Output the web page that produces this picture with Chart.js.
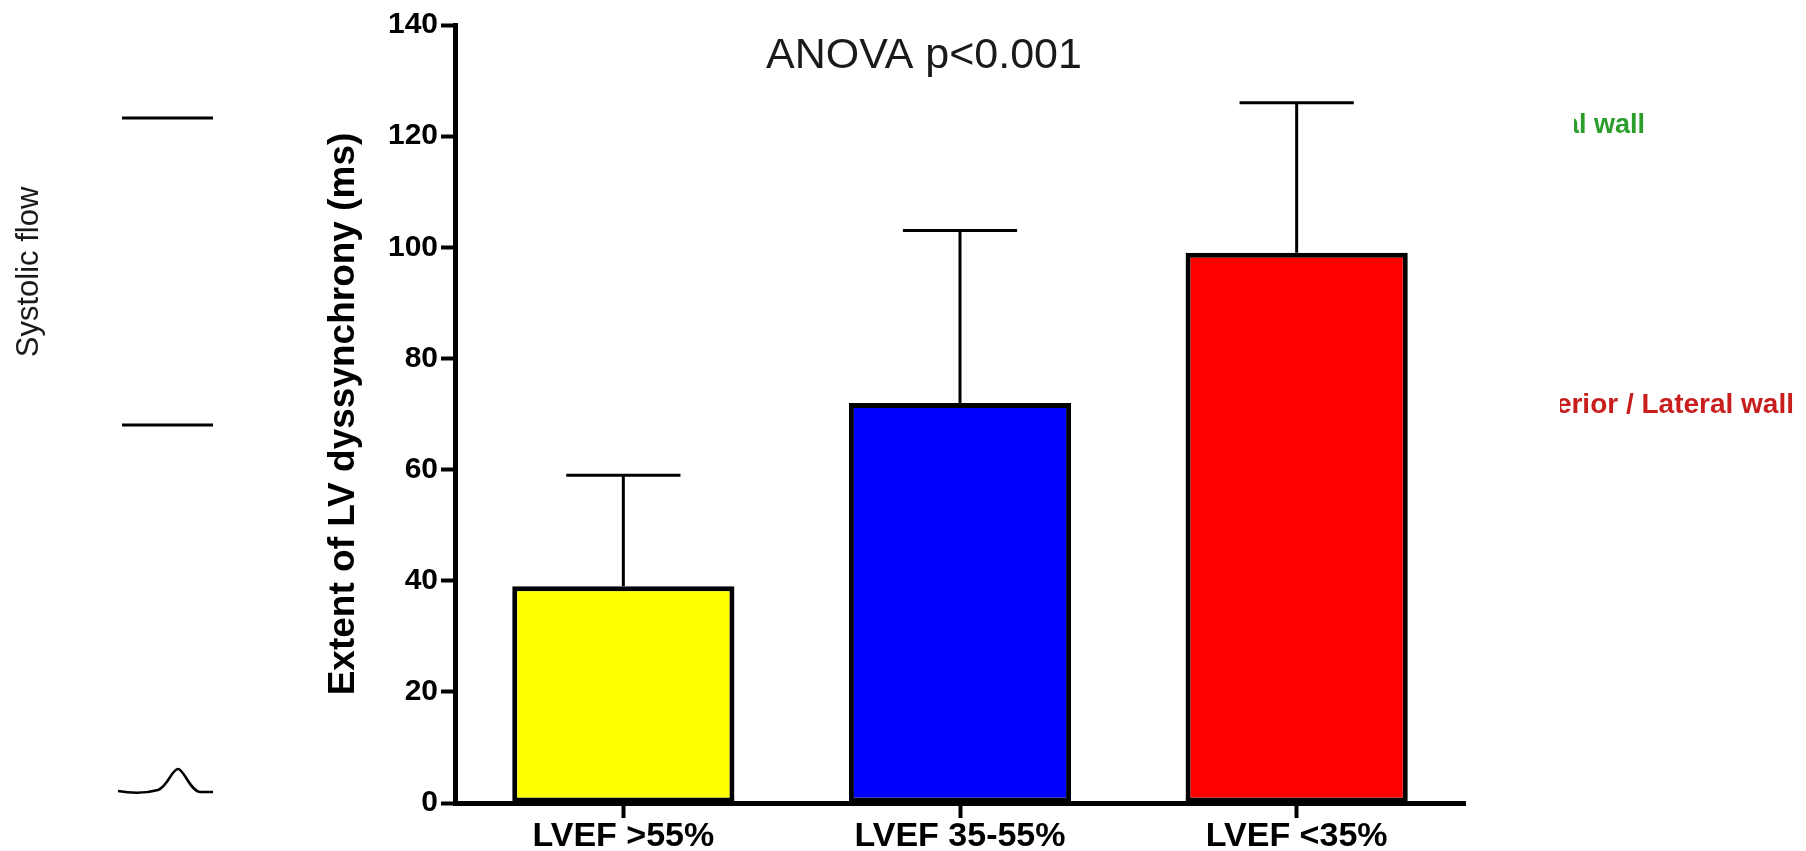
<!DOCTYPE html>
<html>
<head>
<meta charset="utf-8">
<script src="https://cdn.jsdelivr.net/npm/chart.js@4/dist/chart.umd.min.js"></script>
<style>
  html, body { margin: 0; padding: 0; background: #ffffff; }
  #wrap { width: 1806px; height: 851px; }
</style>
</head>
<body>
<div id="wrap"><canvas id="c" width="1806" height="851"></canvas></div>
<script>
// Groups by ejection fraction, mean extent of dyssynchrony and its SD (ms)
const categories = ['LVEF >55%', 'LVEF 35-55%', 'LVEF <35%'];
const meanValues = [39, 72, 99];
const sdValues = [20, 31, 27];
const barColors = ['#ffff00', '#0000ff', '#ff0000'];
const yTickValues = [0, 20, 40, 60, 80, 100, 120, 140];

const FONT = '"Liberation Sans", Arial, Helvetica, sans-serif';

// Upper SD whiskers on top of each bar
const errorBars = {
  id: 'errorBars',
  afterDatasetsDraw(chart) {
    const meta = chart.getDatasetMeta(0);
    const yScale = chart.scales.y;
    const ctx = chart.ctx;
    ctx.save();
    ctx.strokeStyle = '#000000';
    ctx.lineWidth = 3;
    meta.data.forEach((bar, i) => {
      const top = yScale.getPixelForValue(meanValues[i] + sdValues[i]);
      const half = bar.width * 0.257;
      ctx.beginPath();
      ctx.moveTo(bar.x, bar.y);
      ctx.lineTo(bar.x, top);
      ctx.moveTo(bar.x - half, top);
      ctx.lineTo(bar.x + half, top);
      ctx.stroke();
    });
    ctx.restore();
  }
};

// Text cut off on its left side at clipX
function clippedText(ctx, text, clipX, rightX, baseline, color) {
  ctx.save();
  ctx.beginPath();
  ctx.rect(clipX, 0, 1806 - clipX, 851);
  ctx.clip();
  ctx.fillStyle = color;
  ctx.textAlign = 'right';
  ctx.textBaseline = 'alphabetic';
  ctx.fillText(text, rightX, baseline);
  ctx.restore();
}

// Panel annotations: flow trace on the left, wall labels on the right, ANOVA note
const annotations = {
  id: 'annotations',
  afterDraw(chart) {
    const ctx = chart.ctx;
    ctx.save();

    // statistics note
    ctx.fillStyle = '#1a1a1a';
    ctx.font = '43px ' + FONT;
    ctx.textAlign = 'left';
    ctx.textBaseline = 'alphabetic';
    ctx.fillText('ANOVA p<0.001', 766, 68);

    // systolic flow trace
    ctx.strokeStyle = '#000000';
    ctx.lineWidth = 3;
    ctx.beginPath();
    ctx.moveTo(122, 118); ctx.lineTo(213, 118);
    ctx.moveTo(122, 425); ctx.lineTo(213, 425);
    ctx.stroke();
    ctx.lineWidth = 2.5;
    ctx.beginPath();
    ctx.moveTo(118, 791);
    ctx.quadraticCurveTo(140, 795, 158, 790);
    ctx.bezierCurveTo(168, 786, 172, 769, 178, 769);
    ctx.bezierCurveTo(184, 769, 190, 791, 200, 792);
    ctx.lineTo(213, 792);
    ctx.stroke();

    ctx.save();
    ctx.translate(29, 272);
    ctx.rotate(-Math.PI / 2);
    ctx.fillStyle = '#1a1a1a';
    ctx.font = '31px ' + FONT;
    ctx.textAlign = 'center';
    ctx.textBaseline = 'middle';
    ctx.fillText('Systolic flow', 0, 0);
    ctx.restore();

    // wall labels
    ctx.font = 'bold 27px ' + FONT;
    clippedText(ctx, 'al wall', 1574, 1645, 133, '#2a9d2a');
    ctx.font = 'bold 28px ' + FONT;
    clippedText(ctx, 'erior / Lateral wall', 1560, 1794, 413, '#c81e1e');

    ctx.restore();
  }
};

new Chart(document.getElementById('c'), {
  type: 'bar',
  data: {
    labels: categories,
    datasets: [{
      data: meanValues,
      backgroundColor: barColors,
      borderColor: '#000000',
      borderWidth: 5,
      borderSkipped: false,
      barPercentage: 0.66,
      categoryPercentage: 1.0
    }]
  },
  options: {
    responsive: false,
    animation: false,
    devicePixelRatio: 1,
    layout: { padding: { left: 320, right: 341, top: 25, bottom: 0 } },
    plugins: {
      legend: { display: false },
      tooltip: { enabled: false },
      title: { display: false }
    },
    scales: {
      x: {
        afterFit(scale) { scale.height = 48; },
        grid: {
          offset: false,
          drawOnChartArea: false,
          drawTicks: true,
          tickLength: 15,
          tickWidth: 4,
          tickColor: '#000000'
        },
        border: { display: true, color: '#000000', width: 5 },
        ticks: {
          color: '#000000',
          padding: 2,
          font: { family: FONT, size: 34, weight: 'bold', lineHeight: 1.0 }
        }
      },
      y: {
        min: 0,
        max: 140,
        afterFit(scale) { scale.width = 135; },
        afterBuildTicks(scale) { scale.ticks = yTickValues.map(v => ({ value: v })); },
        grid: {
          drawOnChartArea: false,
          drawTicks: true,
          tickLength: 14,
          tickWidth: 4,
          tickColor: '#000000'
        },
        border: { display: true, color: '#000000', width: 5 },
        ticks: {
          color: '#000000',
          padding: 3,
          font: { family: FONT, size: 30, weight: 'bold' }
        },
        title: {
          display: true,
          text: 'Extent of LV dyssynchrony (ms)',
          color: '#000000',
          padding: { top: 5, bottom: 0 },
          font: { family: FONT, size: 37, weight: 'bold', lineHeight: 1.0 }
        }
      }
    }
  },
  plugins: [errorBars, annotations]
});
</script>
</body>
</html>
